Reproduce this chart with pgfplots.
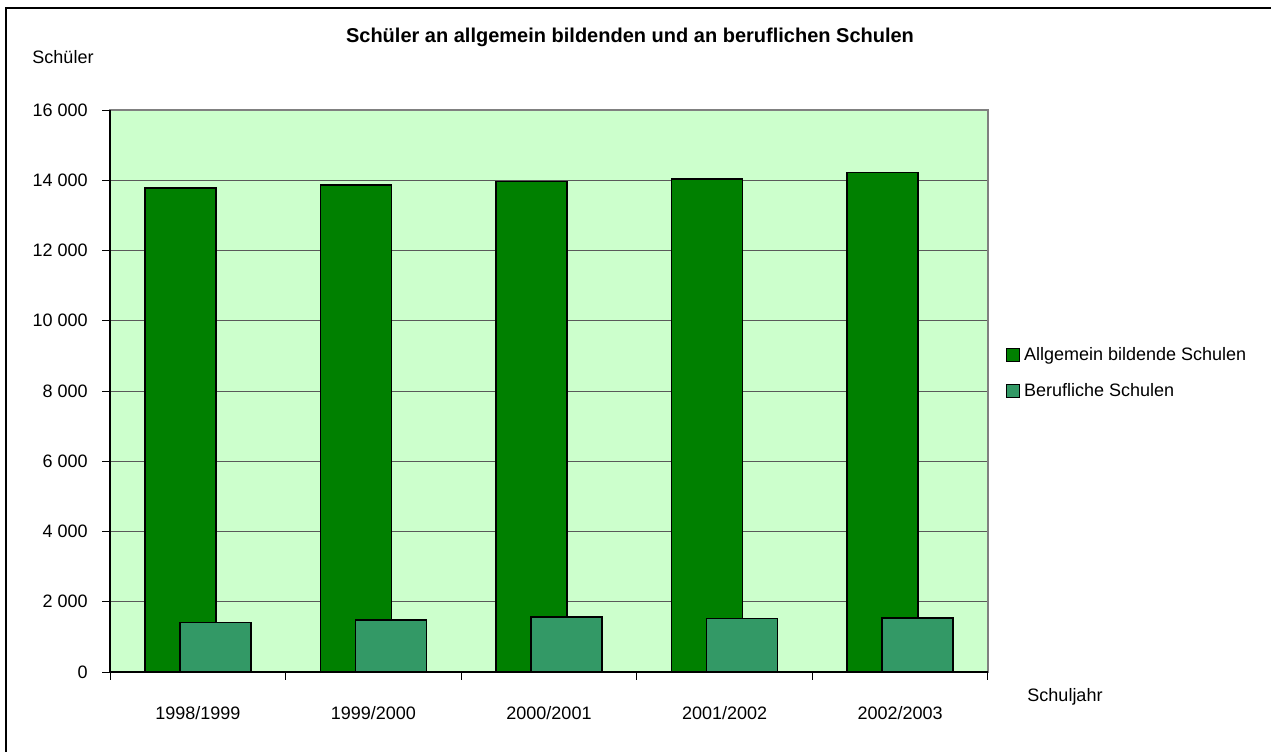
\documentclass[border=0pt]{standalone}
\usepackage{fontspec}
\setmainfont{Liberation Sans}
\usepackage{pgfplots}
\pgfplotsset{compat=1.18}
\definecolor{bgc}{HTML}{CCFFCC}
\definecolor{ga}{HTML}{008000}
\definecolor{gb}{HTML}{339966}
\begin{document}
\fontsize{9}{11}\selectfont
\begin{tikzpicture}[x=0.5pt,y=0.5pt]
\useasboundingbox (0,0) rectangle (1271,751);
\draw[line width=1pt] (6,-10) -- (6,743) -- (1290,743);
\node[font=\fontsize{10}{12}\bfseries] at (630,714) {Schüler an allgemein bildenden und an beruflichen Schulen};
\node at (63,694) {Schüler};
\node at (1065,54) {Schuljahr};
\begin{axis}[at={(55pt,39.5pt)}, anchor=south west, scale only axis,
  width=439pt, height=281pt,
  xmin=-0.5, xmax=4.5, ymin=0, ymax=16000,
  scaled y ticks=false,
  /pgf/number format/assume math mode=true,
  ytick={0,2000,4000,6000,8000,10000,12000,14000,16000},
  yticklabels={0,2 000,4 000,6 000,8 000,10 000,12 000,14 000,16 000},
  xtick={-0.5,0.5,1.5,2.5,3.5,4.5},
  x tick label as interval,
  xticklabels={1998/1999,1999/2000,2000/2001,2001/2002,2002/2003},
  xtick pos=bottom, ytick pos=left,
  tick align=outside, major tick length=3.8pt,
  tick style={draw=black, line width=0.5pt},
  ymajorgrids, xmajorgrids=false, grid style={black!65, line width=0.5pt},
  axis background/.style={fill=bgc},
  axis line style={black!50, line width=0.6pt},
  tick label style={font=\fontsize{9}{11}\selectfont},
  xticklabel style={yshift=-10pt},
  yticklabel style={xshift=-4.2pt},
  ybar, bar width=35.5pt,
  legend style={at={(1.02,0.532)}, anchor=west, draw=none, fill=none,
    font=\fontsize{9}{11}\selectfont, row sep=6pt, inner sep=0pt},
  legend cell align=left,
  legend image code/.code={\draw[#1,line width=0.6pt] (0pt,-3.25pt) rectangle (6.5pt,3.25pt);},
  after end axis/.code={\draw[black,line width=0.6pt] (rel axis cs:0,1) -- (rel axis cs:0,0) -- (rel axis cs:1,0);}
]
\addplot[ybar, bar shift=-8.75pt, fill=ga, draw=black, line width=0.8pt] coordinates {(0,13780) (1,13865) (2,13960) (3,14035) (4,14215)};
\addplot[ybar, bar shift=8.75pt, fill=gb, draw=black, line width=0.8pt] coordinates {(0,1415) (1,1480) (2,1570) (3,1518) (4,1537)};
\legend{Allgemein bildende Schulen, Berufliche Schulen}
\end{axis}
\end{tikzpicture}
\end{document}
